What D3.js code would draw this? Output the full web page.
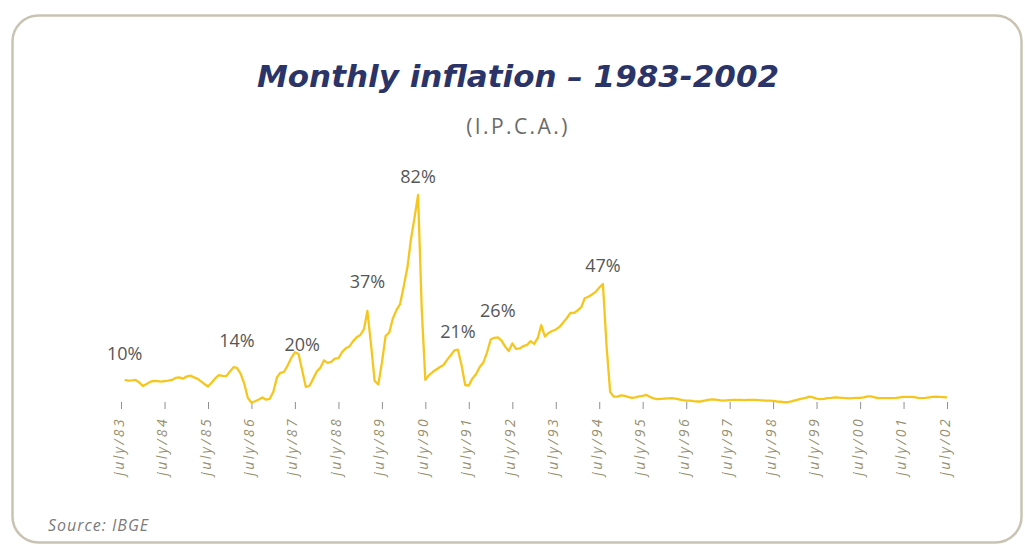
<!DOCTYPE html>
<html>
<head>
<meta charset="utf-8">
<script src="https://cdn.jsdelivr.net/npm/d3@7"></script>
<style>
  body { margin: 0; background: #fff; }
  svg { display: block; }
</style>
</head>
<body>
<svg id="chart"></svg>
<script>
// monthly IPCA (% per month), starting Aug 1983
const firstMonth = "1983-08";
const monthlyRate = [
  9.1, 8.8, 8.9, 9.1, 8.1,                                           // 1983
  6.7, 7.5, 8.3, 8.7, 8.6, 8.4, 8.6, 8.8, 9.1, 9.9, 10.1, 9.6,         // 1984
  10.4, 10.8, 10.2, 9.6, 8.6, 7.5, 6.5, 8.1, 9.8, 11.0, 10.7, 10.6,    // 1985
  12.4, 14.1, 13.8, 11.6, 7.7, 2.0, 0.2, 0.7, 1.4, 2.2, 1.3, 1.6,      // 1986
  4.4, 10.2, 11.9, 12.3, 14.8, 17.8, 20.0, 19.3, 12.7, 6.3, 6.8, 9.5,  // 1987
  12.4, 14.0, 16.8, 15.8, 16.2, 17.5, 17.7, 20.1, 21.6, 22.3, 24.4, 25.9, // 1988
  26.8, 29.2, 36.3, 22.9, 8.7, 7.3, 15.8, 26.4, 27.8, 33.3, 36.7, 39.0,   // 1989
  46.1, 53.6, 64.2, 73.0, 82.0, 36.7, 9.1, 11.0, 12.2, 13.2, 14.2, 15.0,  // 1990
  17.1, 18.9, 20.7, 21.0, 15.0, 7.1, 6.9, 9.7, 11.4, 14.2, 16.0, 19.9,    // 1991
  25.0, 25.7, 25.9, 24.6, 22.3, 20.5, 23.5, 21.3, 21.5, 22.4, 22.9, 24.4, // 1992
  23.3, 25.8, 30.7, 26.2, 27.6, 28.4, 29.0, 30.0, 31.7, 33.4, 35.5, 35.5, // 1993
  36.5, 37.8, 41.3, 41.9, 42.8, 43.8, 45.5, 46.9, 22.2, 4.3, 2.5, 2.5,    // 1994
  3.0, 2.8, 2.4, 2.0, 2.2, 2.6, 2.8, 3.2, 2.4, 1.8, 1.5, 1.6,  // 1995
  1.7, 1.8, 1.9, 1.7, 1.4, 1.1, 0.9, 0.9, 0.7, 0.6, 0.6, 0.9,  // 1996
  1.2, 1.4, 1.3, 1.1, 0.9, 1.0, 1.1, 1.2, 1.2, 1.2, 1.1, 1.2,  // 1997
  1.2, 1.2, 1.1, 1.0, 0.9, 0.9, 0.8, 0.6, 0.5, 0.3, 0.3, 0.6,  // 1998
  1.0, 1.4, 1.7, 2.0, 2.5, 2.2, 1.7, 1.5, 1.6, 1.9, 2.0, 2.2,  // 1999
  2.1, 2.0, 1.9, 1.8, 1.9, 2.0, 2.0, 2.2, 2.6, 2.6, 2.2, 1.9,  // 2000
  1.9, 1.9, 1.9, 1.9, 2.0, 2.2, 2.4, 2.4, 2.4, 2.3, 2.0, 1.9,  // 2001
  2.0, 2.2, 2.4, 2.5, 2.4, 2.3, 2.2                            // 2002
];

const tickMonths = ["1983-07","1984-07","1985-07","1986-07","1987-07","1988-07","1989-07",
  "1990-07","1991-07","1992-07","1993-07","1994-07","1995-07","1996-07","1997-07","1998-07",
  "1999-07","2000-07","2001-07","2002-07"];
const tickLabels = ["july/83","july/84","july/85","july/86","july/87","july/88","july/89",
  "july/90","july/91","july/92","july/93","july/94","july/95","july/96","july/97","july/98",
  "july/99","july/00","july/01","july/02"];

const peakMonths = ["1983-08","1986-03","1987-09","1989-03","1990-05","1991-04","1992-03","1994-08"];
const peakLabels = ["10%","14%","20%","37%","82%","21%","26%","47%"];

const width = 1025, height = 545;
const parseMonth = d3.timeParse("%Y-%m");

const start = parseMonth(firstMonth);
const data = monthlyRate.map((v, i) => ({ date: d3.timeMonth.offset(start, i), value: v }));

const svg = d3.select("#chart").attr("width", width).attr("height", height);

// frame
svg.append("rect")
  .attr("x", 12.5).attr("y", 15.5)
  .attr("width", 1009).attr("height", 527)
  .attr("rx", 26).attr("ry", 26)
  .attr("fill", "#fff")
  .attr("stroke", "#c9c3b4")
  .attr("stroke-width", 2.5);

// titles
svg.append("text")
  .attr("x", 518).attr("y", 87)
  .attr("text-anchor", "middle")
  .style("font-family", "DejaVu Sans")
  .style("font-weight", 700)
  .style("font-style", "oblique")
  .style("font-size", "31px")
  .style("fill", "#2b3468")
  .text("Monthly inflation – 1983-2002");

svg.append("text")
  .attr("x", 518).attr("y", 134)
  .attr("text-anchor", "middle")
  .style("font-family", "Open Sans")
  .style("font-size", "21px")
  .style("letter-spacing", "2.4px")
  .style("fill", "#6b6b6b")
  .text("(I.P.C.A.)");

svg.append("text")
  .attr("x", 48).attr("y", 531)
  .style("font-family", "Open Sans")
  .style("font-style", "italic")
  .style("font-size", "16px")
  .style("letter-spacing", "1px")
  .style("fill", "#7a7a7a")
  .text("Source: IBGE");

// scales
const x = d3.scaleTime()
  .domain([parseMonth("1983-07"), parseMonth("2002-07")])
  .range([121, 947]);
const y = d3.scaleLinear()
  .domain([0, 82])
  .range([403, 195]);

// axis: small ticks + rotated labels
const xAxis = d3.axisBottom(x)
  .tickValues(tickMonths.map(parseMonth))
  .tickFormat((d, i) => tickLabels[i])
  .tickSize(7)
  .tickSizeOuter(0);

const axisG = svg.append("g")
  .attr("transform", "translate(0,402)")
  .call(xAxis);
axisG.select(".domain").remove();
axisG.selectAll(".tick line").attr("stroke", "#8f8f8f").attr("stroke-width", 1);
axisG.selectAll(".tick text")
  .attr("transform", "rotate(-90)")
  .attr("text-anchor", "end")
  .attr("x", -15)
  .attr("y", 2)
  .attr("dy", "0")
  .style("font-family", "Open Sans")
  .style("font-style", "italic")
  .style("font-size", "14px")
  .style("letter-spacing", "2.4px")
  .style("fill", "#978f6d");

// line
const line = d3.line()
  .x(d => x(d.date))
  .y(d => y(d.value));

svg.append("path")
  .datum(data)
  .attr("fill", "none")
  .attr("stroke", "#f5c71e")
  .attr("stroke-width", 2.3)
  .attr("stroke-linejoin", "round")
  .attr("d", line);

// peak labels
const labelGap = [20, 21, 20, 23, 12, 12, 20, 12];
const byMonth = new Map(data.map(d => [d3.timeFormat("%Y-%m")(d.date), d.value]));
svg.append("g").selectAll("text")
  .data(peakMonths)
  .join("text")
  .attr("x", d => x(parseMonth(d)))
  .attr("y", (d, i) => y(byMonth.get(d)) - labelGap[i])
  .attr("text-anchor", "middle")
  .style("font-family", "Open Sans")
  .style("font-size", "18px")
  .style("fill", "#575757")
  .text((d, i) => peakLabels[i]);
</script>
</body>
</html>
